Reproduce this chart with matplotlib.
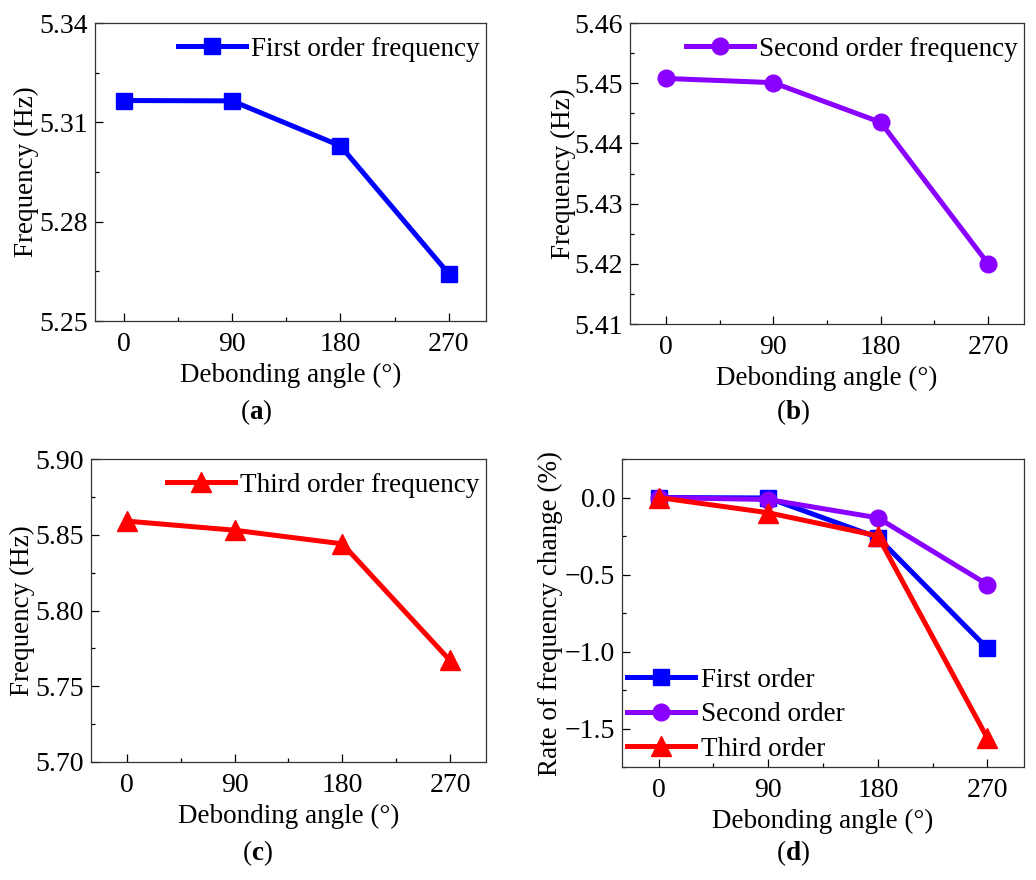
import matplotlib
matplotlib.use('Agg')
import matplotlib.pyplot as plt
from matplotlib.ticker import MultipleLocator, FuncFormatter

plt.rcParams['font.family'] = ['Liberation Serif', 'DejaVu Serif']
plt.rcParams['mathtext.fontset'] = 'custom'
plt.rcParams['mathtext.rm'] = 'Liberation Serif'
plt.rcParams['mathtext.bf'] = 'Liberation Serif:bold'
plt.rcParams['font.size'] = 19.5

angles = [0, 90, 180, 270]
first_freq = [5.3166, 5.3165, 5.3029, 5.2643]
second_freq = [5.4508, 5.4501, 5.4435, 5.4200]
third_freq = [5.859, 5.853, 5.844, 5.767]
first_rate = [0.0, -0.003, -0.26, -0.98]
second_rate = [0.0, -0.013, -0.132, -0.565]
third_rate = [0.0, -0.099, -0.249, -1.563]

BLUE = '#0000FF'
PURPLE = '#8A00FF'
RED = '#FF0000'
LW = 3.6


def minus_fmt(fmt):
    return FuncFormatter(lambda v, p: (fmt % v).replace('-', '\u2212'))


def style_axis(ax, xlim, ylim, ystep, yfmt):
    ax.set_xlim(*xlim)
    ax.set_ylim(*ylim)
    ax.xaxis.set_major_locator(MultipleLocator(90))
    ax.xaxis.set_minor_locator(MultipleLocator(45))
    ax.yaxis.set_major_locator(MultipleLocator(ystep))
    ax.yaxis.set_minor_locator(MultipleLocator(ystep / 2))
    ax.yaxis.set_major_formatter(minus_fmt(yfmt))
    ax.tick_params(which='major', direction='in', length=6, width=0.9, labelsize=20)
    ax.tick_params(axis='x', which='major', pad=8)
    ax.tick_params(axis='y', which='major', pad=5)
    ax.tick_params(which='minor', direction='in', length=3, width=0.9)
    ax.tick_params(top=False, right=False)
    for s in ax.spines.values():
        s.set_color('#333333')
        s.set_linewidth(0.9)
    ax.set_xlabel('Debonding angle (°)', labelpad=4)


fig = plt.figure(figsize=(10.36, 8.8), dpi=100)
ax_a = fig.add_axes([0.0917, 0.6352, 0.3774, 0.3386])
ax_b = fig.add_axes([0.6081, 0.6318, 0.3803, 0.3420])
ax_c = fig.add_axes([0.0878, 0.1341, 0.3813, 0.3443])
ax_d = fig.add_axes([0.6004, 0.1284, 0.3880, 0.3500])

ax_a.plot(angles, first_freq, color=BLUE, lw=LW, marker='s', ms=11, label='First order frequency')
style_axis(ax_a, (-24, 301), (5.25, 5.34), 0.03, '%.2f')
ax_a.set_ylabel('Frequency (Hz)', labelpad=0)

ax_b.plot(angles, second_freq, color=PURPLE, lw=LW, marker='o', ms=12, label='Second order frequency')
style_axis(ax_b, (-30, 300), (5.41, 5.46), 0.01, '%.2f')
ax_b.set_ylabel('Frequency (Hz)', labelpad=-1)

ax_c.plot(angles, third_freq, color=RED, lw=LW, marker='^', ms=14, label='Third order frequency')
style_axis(ax_c, (-30, 300), (5.70, 5.90), 0.05, '%.2f')
ax_c.set_ylabel('Frequency (Hz)', labelpad=0)

ax_d.plot(angles, first_rate, color=BLUE, lw=LW, marker='s', ms=11, label='First order')
ax_d.plot(angles, second_rate, color=PURPLE, lw=LW, marker='o', ms=12, label='Second order')
ax_d.plot(angles, third_rate, color=RED, lw=LW, marker='^', ms=14, label='Third order')
style_axis(ax_d, (-30, 300), (-1.75, 0.25), 0.5, '%.1f')
ax_d.set_ylabel('Rate of frequency change (%)', labelpad=1)

for ax in (ax_a, ax_b, ax_c):
    ax.legend(loc='upper right', bbox_to_anchor=(0.998, 0.972), frameon=False,
              handlelength=2.5, handletextpad=0.2, borderaxespad=0.0, borderpad=0.2,
              fontsize=19.5)
ax_d.legend(loc='lower left', frameon=False, handlelength=2.5, handletextpad=0.2,
            borderaxespad=0.0, borderpad=0.2, labelspacing=0.35, fontsize=19.5)

for x, y, lab in [(256, 412, 'a'), (793, 412, 'b'), (257, 853, 'c'), (793, 853, 'd')]:
    fig.text(x / 1036, 1 - y / 880, r'($\mathbf{%s}$)' % lab, ha='center', va='center', fontsize=19.5)

fig.savefig('out.png', dpi=100)
